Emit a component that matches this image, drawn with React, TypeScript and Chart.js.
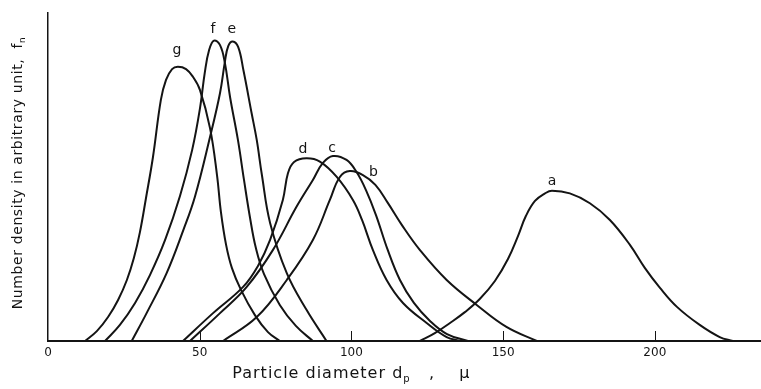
import React, { useEffect, useRef } from "react";
import { Chart, registerables } from "chart.js";

Chart.register(...registerables);

const FONT = "'DejaVu Sans', 'Liberation Sans', sans-serif";
const INK = "#141414";

// x axis tick values (particle diameter, μ)
const xTickValues = [0, 50, 100, 150, 200];

// curve names as printed in the figure
const curveNames = ["a", "b", "c", "d", "e", "f", "g"];

// [diameter, number density]
const curveA: [number, number][] = [
  [122.6, 0], [127.5, 2.4], [132.5, 5.5], [137.4, 8.8], [142.3, 12.8], [147.3, 18.3],
  [151.6, 25.0], [154.9, 32.0], [157.5, 38.1], [160.5, 42.7], [163.8, 45.0], [166.1, 45.8],
  [172.0, 45.0], [178.6, 42.0], [185.2, 36.9], [191.8, 29.3], [196.7, 22.3], [201.7, 16.2],
  [207.3, 10.4], [214.8, 4.9], [221.4, 1.2], [225.7, 0],
];
const curveB: [number, number][] = [
  [57.7, 0], [68.8, 7.3], [78.7, 18.6], [87.3, 30.8], [92.9, 43.0], [96.2, 50.0],
  [99.5, 51.8], [103.8, 50.6], [107.9, 47.6], [112.0, 42.1], [116.6, 35.4], [122.6, 27.7],
  [131.4, 18.6], [141.3, 11.0], [151.1, 4.3], [161.1, 0],
];
const curveC: [number, number][] = [
  [46.8, 0], [56.7, 8.5], [65.5, 16.5], [74.1, 27.7], [81.9, 40.9], [87.3, 49.1],
  [90.6, 54.3], [93.9, 56.4], [98.4, 55.2], [101.7, 51.5], [104.8, 46.0], [108.1, 38.4],
  [112.0, 27.7], [116.0, 18.6], [120.6, 11.6], [125.9, 6.1], [131.5, 2.1], [138.4, 0],
];
const curveD: [number, number][] = [
  [44.5, 0], [54.4, 8.5], [64.3, 16.5], [69.2, 22.9], [73.2, 30.8], [77.4, 43.0],
  [79.1, 51.2], [81.1, 54.6], [85.2, 55.7], [89.6, 54.7], [95.1, 50.1], [100.5, 43.0],
  [103.5, 36.9], [107.1, 27.7], [111.6, 18.6], [117.0, 11.6], [124.8, 5.5], [131.4, 1.2],
  [135.8, 0],
];
const curveE: [number, number][] = [
  [27.6, 0], [32.5, 8.5], [39.1, 20.7], [44.6, 33.8], [48.4, 43.9], [53.4, 62.2],
  [56.7, 75.6], [58.3, 85.1], [59.4, 89.9], [60.9, 91.3], [62.7, 89.6], [64.4, 82.6],
  [67.1, 69.5], [68.8, 61.3], [70.5, 50.6], [73.2, 36.0], [78.7, 20.7], [85.2, 9.5],
  [91.8, 0],
];
const curveF: [number, number][] = [
  [18.8, 0], [23.7, 4.9], [28.7, 11.6], [33.6, 20.1], [38.6, 30.8], [43.5, 44.2],
  [47.5, 58.2], [50.1, 71.0], [51.7, 82.0], [53.1, 88.7], [54.7, 91.6], [56.7, 90.2],
  [58.3, 84.8], [60.0, 74.4], [62.6, 61.3], [64.6, 49.1], [66.6, 37.5], [68.5, 28.4],
  [71.2, 20.4], [76.4, 11.0], [81.7, 4.6], [87.3, 0],
];
const curveG: [number, number][] = [
  [12.2, 0], [16.1, 3.0], [19.8, 7.3], [23.1, 12.5], [26.0, 18.6], [28.3, 25.3],
  [30.3, 33.2], [32.3, 43.6], [34.6, 56.1], [37.2, 73.5], [38.9, 79.6], [40.9, 82.9],
  [42.8, 83.6], [45.5, 82.9], [47.8, 80.5], [50.1, 76.5], [53.4, 64.9], [55.7, 50.6],
  [57.0, 39.3], [58.7, 29.3], [60.6, 22.3], [63.6, 15.6], [68.2, 7.9], [72.5, 2.7],
  [76.4, 0],
];

// where each curve letter is printed (data units)
const labelAnchors: [number, number][] = [
  [166.1, 47.5], [107.3, 50.4], [93.6, 57.6], [84.0, 57.2], [60.6, 93.8], [54.4, 93.8], [42.5, 87.6],
];

const curves = [curveA, curveB, curveC, curveD, curveE, curveF, curveG];

const overlayPlugin = {
  id: "overlay",
  afterDraw(chart: any) {
    const { ctx, scales, chartArea } = chart;
    const x = scales.x;
    const y = scales.y;
    ctx.save();
    // inward tick marks on the x axis
    const y0 = y.getPixelForValue(0);
    ctx.strokeStyle = INK;
    ctx.lineWidth = 1;
    xTickValues.slice(1).forEach((v) => {
      const px = Math.round(x.getPixelForValue(v)) + 0.5;
      ctx.beginPath();
      ctx.moveTo(px, y0);
      ctx.lineTo(px, y0 - 10);
      ctx.stroke();
    });
    // curve letters
    ctx.fillStyle = INK;
    ctx.font = `14px ${FONT}`;
    ctx.textAlign = "center";
    ctx.textBaseline = "alphabetic";
    curveNames.forEach((n, i) => {
      const [lx, ly] = labelAnchors[i];
      ctx.fillText(n, x.getPixelForValue(lx), y.getPixelForValue(ly));
    });

    // titles with subscripts
    const drawWithSub = (parts: [string, boolean][], size: number, subSize: number, spacing: string) => {
      (ctx as any).letterSpacing = spacing;
      let w = 0;
      parts.forEach(([t, sub]) => {
        ctx.font = `${sub ? subSize : size}px ${FONT}`;
        w += ctx.measureText(t).width;
      });
      let cx = -w / 2;
      ctx.textAlign = "left";
      parts.forEach(([t, sub]) => {
        ctx.font = `${sub ? subSize : size}px ${FONT}`;
        ctx.fillText(t, cx, sub ? size * 0.22 : 0);
        cx += ctx.measureText(t).width;
      });
      (ctx as any).letterSpacing = "0px";
    };
    ctx.save();
    ctx.translate(x.getPixelForValue(100), 378);
    drawWithSub([["Particle diameter d", false], ["p", true], ["   ,    \u03bc", false]], 16, 10, "1px");
    ctx.restore();

    ctx.save();
    ctx.translate(22, (chartArea.top + chartArea.bottom) / 2 - 4);
    ctx.rotate(-Math.PI / 2);
    drawWithSub([["Number density in arbitrary unit,  f", false], ["n", true]], 14, 9, "0.6px");
    ctx.restore();

    ctx.restore();
  },
};

export default function App() {
  const canvasRef = useRef<HTMLCanvasElement | null>(null);

  useEffect(() => {
    document.body.style.margin = "0";
    const canvas = canvasRef.current;
    if (!canvas) return;
    const chart = new Chart(canvas, {
      type: "line",
      data: {
        datasets: curves.map((c, i) => ({
          label: curveNames[i],
          data: c.map(([xv, yv]) => ({ x: xv, y: yv })),
          borderColor: INK,
          borderWidth: 2,
          pointRadius: 0,
          fill: false,
          tension: 0.4,
        })),
      },
      options: {
        responsive: false,
        animation: false,
        events: [],
        layout: { padding: { top: 13, right: 0, left: 0, bottom: 0 } },
        plugins: {
          legend: { display: false },
          tooltip: { enabled: false },
        },
        scales: {
          x: {
            type: "linear",
            min: 0,
            max: 235,
            afterBuildTicks: (s: any) => {
              s.ticks = xTickValues.map((v) => ({ value: v }));
            },
            afterFit: (s: any) => {
              s.height = 48;
            },
            ticks: {
              color: INK,
              font: { family: FONT, size: 12 },
              padding: 5,
              maxRotation: 0,
              autoSkip: false,
            },
            grid: { display: false, drawTicks: false },
            border: { display: true, color: INK, width: 2 },
          },
          y: {
            type: "linear",
            min: 0,
            max: 100,
            afterFit: (s: any) => {
              s.width = 48;
            },
            ticks: { display: false },
            grid: { display: false, drawTicks: false },
            border: { display: true, color: INK, width: 1.5 },
          },
        },
      },
      plugins: [overlayPlugin],
    });
    return () => chart.destroy();
  }, []);

  return (
    <div style={{ width: 761, height: 389, background: "#fff" }}>
      <canvas ref={canvasRef} width={761} height={389} style={{ display: "block" }} />
    </div>
  );
}
